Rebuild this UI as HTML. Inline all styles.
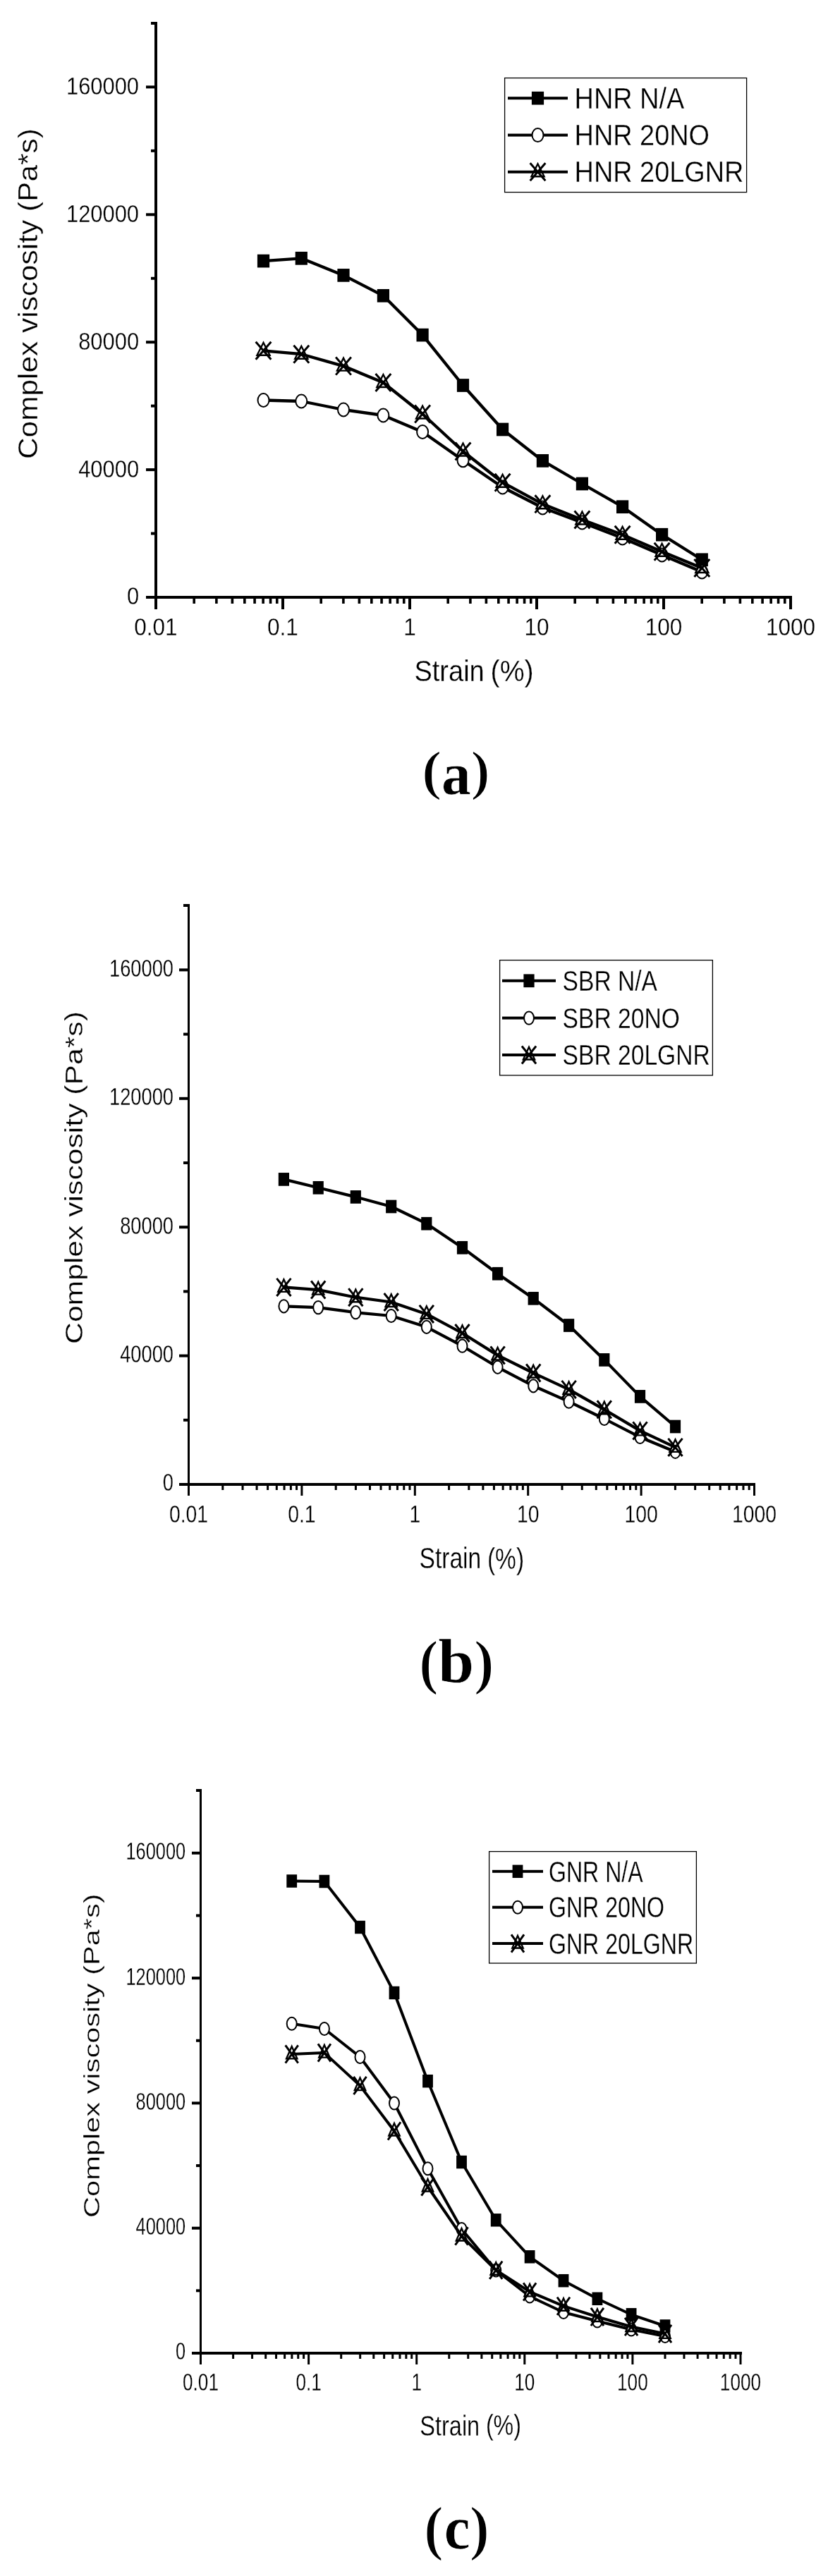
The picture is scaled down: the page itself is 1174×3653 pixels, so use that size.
<!DOCTYPE html>
<html><head><meta charset="utf-8"><style>
html,body{margin:0;padding:0;background:#fff;}
svg{display:block;filter:grayscale(1);}
text{fill:#000;}
.t{stroke:#fff;stroke-width:0.3px;}
.p{stroke:#fff;stroke-width:1.8px;}
.c{stroke:#fff;stroke-width:0.6px;}
</style></head><body>
<svg width="1174" height="3653" viewBox="0 0 1174 3653">
<rect width="1174" height="3653" fill="#fff"/>
<rect x="219" y="31" width="4" height="818" fill="#000"/>
<rect x="207" y="845" width="916" height="4" fill="#000"/>
<rect x="207" y="845" width="12.5" height="4" fill="#000"/>
<rect x="214" y="754.55" width="5.5" height="4" fill="#000"/>
<rect x="207" y="664.1" width="12.5" height="4" fill="#000"/>
<rect x="214" y="573.65" width="5.5" height="4" fill="#000"/>
<rect x="207" y="483.2" width="12.5" height="4" fill="#000"/>
<rect x="214" y="392.75" width="5.5" height="4" fill="#000"/>
<rect x="207" y="302.3" width="12.5" height="4" fill="#000"/>
<rect x="214" y="211.85" width="5.5" height="4" fill="#000"/>
<rect x="207" y="121.4" width="12.5" height="4" fill="#000"/>
<rect x="214" y="31" width="5.5" height="4" fill="#000"/>
<rect x="219" y="846" width="4" height="18" fill="#000"/>
<rect x="273.39" y="846" width="3.6" height="10" fill="#000"/>
<rect x="305.08" y="846" width="3.6" height="10" fill="#000"/>
<rect x="327.57" y="846" width="3.6" height="10" fill="#000"/>
<rect x="345.01" y="846" width="3.6" height="10" fill="#000"/>
<rect x="359.27" y="846" width="3.6" height="10" fill="#000"/>
<rect x="371.32" y="846" width="3.6" height="10" fill="#000"/>
<rect x="381.76" y="846" width="3.6" height="10" fill="#000"/>
<rect x="390.96" y="846" width="3.6" height="10" fill="#000"/>
<rect x="399" y="846" width="4" height="18" fill="#000"/>
<rect x="453.39" y="846" width="3.6" height="10" fill="#000"/>
<rect x="485.08" y="846" width="3.6" height="10" fill="#000"/>
<rect x="507.57" y="846" width="3.6" height="10" fill="#000"/>
<rect x="525.01" y="846" width="3.6" height="10" fill="#000"/>
<rect x="539.27" y="846" width="3.6" height="10" fill="#000"/>
<rect x="551.32" y="846" width="3.6" height="10" fill="#000"/>
<rect x="561.76" y="846" width="3.6" height="10" fill="#000"/>
<rect x="570.96" y="846" width="3.6" height="10" fill="#000"/>
<rect x="579" y="846" width="4" height="18" fill="#000"/>
<rect x="633.39" y="846" width="3.6" height="10" fill="#000"/>
<rect x="665.08" y="846" width="3.6" height="10" fill="#000"/>
<rect x="687.57" y="846" width="3.6" height="10" fill="#000"/>
<rect x="705.01" y="846" width="3.6" height="10" fill="#000"/>
<rect x="719.27" y="846" width="3.6" height="10" fill="#000"/>
<rect x="731.32" y="846" width="3.6" height="10" fill="#000"/>
<rect x="741.76" y="846" width="3.6" height="10" fill="#000"/>
<rect x="750.96" y="846" width="3.6" height="10" fill="#000"/>
<rect x="759" y="846" width="4" height="18" fill="#000"/>
<rect x="813.39" y="846" width="3.6" height="10" fill="#000"/>
<rect x="845.08" y="846" width="3.6" height="10" fill="#000"/>
<rect x="867.57" y="846" width="3.6" height="10" fill="#000"/>
<rect x="885.01" y="846" width="3.6" height="10" fill="#000"/>
<rect x="899.27" y="846" width="3.6" height="10" fill="#000"/>
<rect x="911.32" y="846" width="3.6" height="10" fill="#000"/>
<rect x="921.76" y="846" width="3.6" height="10" fill="#000"/>
<rect x="930.96" y="846" width="3.6" height="10" fill="#000"/>
<rect x="939" y="846" width="4" height="18" fill="#000"/>
<rect x="993.39" y="846" width="3.6" height="10" fill="#000"/>
<rect x="1025.08" y="846" width="3.6" height="10" fill="#000"/>
<rect x="1047.57" y="846" width="3.6" height="10" fill="#000"/>
<rect x="1065.01" y="846" width="3.6" height="10" fill="#000"/>
<rect x="1079.27" y="846" width="3.6" height="10" fill="#000"/>
<rect x="1091.32" y="846" width="3.6" height="10" fill="#000"/>
<rect x="1101.76" y="846" width="3.6" height="10" fill="#000"/>
<rect x="1110.96" y="846" width="3.6" height="10" fill="#000"/>
<rect x="1119" y="846" width="4" height="18" fill="#000"/>
<text font-family='"Liberation Sans", sans-serif' font-weight="normal" font-size="35" class="t" transform="translate(179.91 857.4) scale(0.8830 1)">0</text>
<text font-family='"Liberation Sans", sans-serif' font-weight="normal" font-size="35" class="t" transform="translate(111.16 676.5) scale(0.8830 1)">40000</text>
<text font-family='"Liberation Sans", sans-serif' font-weight="normal" font-size="35" class="t" transform="translate(111.16 495.6) scale(0.8830 1)">80000</text>
<text font-family='"Liberation Sans", sans-serif' font-weight="normal" font-size="35" class="t" transform="translate(93.97 314.7) scale(0.8830 1)">120000</text>
<text font-family='"Liberation Sans", sans-serif' font-weight="normal" font-size="35" class="t" transform="translate(93.97 133.8) scale(0.8830 1)">160000</text>
<text font-family='"Liberation Sans", sans-serif' font-weight="normal" font-size="35.7" class="t" transform="translate(190.32 900.95) scale(0.8830 1)">0.01</text>
<text font-family='"Liberation Sans", sans-serif' font-weight="normal" font-size="35.7" class="t" transform="translate(379.09 900.95) scale(0.8830 1)">0.1</text>
<text font-family='"Liberation Sans", sans-serif' font-weight="normal" font-size="35.7" class="t" transform="translate(572.23 900.95) scale(0.8830 1)">1</text>
<text font-family='"Liberation Sans", sans-serif' font-weight="normal" font-size="35.7" class="t" transform="translate(743.47 900.95) scale(0.8830 1)">10</text>
<text font-family='"Liberation Sans", sans-serif' font-weight="normal" font-size="35.7" class="t" transform="translate(914.7 900.95) scale(0.8830 1)">100</text>
<text font-family='"Liberation Sans", sans-serif' font-weight="normal" font-size="35.7" class="t" transform="translate(1085.94 900.95) scale(0.8830 1)">1000</text>
<text font-family='"Liberation Sans", sans-serif' font-weight="normal" font-size="42.72" class="t" transform="translate(587.39 966.27) scale(0.8904 1)">Strain</text>
<text font-family='"Liberation Sans", sans-serif' font-weight="normal" font-size="42.04" class="t" transform="translate(695.54 965.78) scale(0.9349 1)">(%)</text>
<text font-family='"Liberation Sans", sans-serif' font-size="37.86" class="t" transform="translate(53.35 651.02) rotate(-90) scale(1.1199 1)">Complex viscosity (Pa*s)</text>
<text font-family='"Liberation Serif", serif' font-weight="bold" font-size="77.91" class="p" transform="translate(597.8 1119.14) scale(1.1124 1)">(</text>
<text font-family='"Liberation Serif", serif' font-weight="bold" font-size="85" class="c" transform="translate(625.89 1125.85) scale(0.9802 1)">a</text>
<text font-family='"Liberation Serif", serif' font-weight="bold" font-size="77.91" class="p" transform="translate(667.3 1119.14) scale(1.0668 1)">)</text>
<polyline points="373.5,370.1 427.3,366.3 487,390.4 543.4,419.3 599.1,475.1 656.5,546.5 712.6,609 769.4,653.4 825.4,686 882.6,718.7 938.6,758.2 995.3,793.8" fill="none" stroke="#000" stroke-linejoin="round" stroke-width="4.3"/>
<rect x="364.9" y="360.75" width="17.2" height="18.7"/>
<rect x="418.7" y="356.95" width="17.2" height="18.7"/>
<rect x="478.4" y="381.05" width="17.2" height="18.7"/>
<rect x="534.8" y="409.95" width="17.2" height="18.7"/>
<rect x="590.5" y="465.75" width="17.2" height="18.7"/>
<rect x="647.9" y="537.15" width="17.2" height="18.7"/>
<rect x="704" y="599.65" width="17.2" height="18.7"/>
<rect x="760.8" y="644.05" width="17.2" height="18.7"/>
<rect x="816.8" y="676.65" width="17.2" height="18.7"/>
<rect x="874" y="709.35" width="17.2" height="18.7"/>
<rect x="930" y="748.85" width="17.2" height="18.7"/>
<rect x="986.7" y="784.45" width="17.2" height="18.7"/>
<polyline points="373.5,567.5 427.3,569 487,581 543.4,589 599.1,612.5 656.5,652.8 712.6,691 769.4,720 825.4,741 882.6,763 938.6,787 995.3,811" fill="none" stroke="#000" stroke-linejoin="round" stroke-width="4.3"/>
<ellipse cx="373.5" cy="567.5" rx="8" ry="9.5" fill="#fff" stroke="#000" stroke-width="2.0"/>
<ellipse cx="427.3" cy="569" rx="8" ry="9.5" fill="#fff" stroke="#000" stroke-width="2.0"/>
<ellipse cx="487" cy="581" rx="8" ry="9.5" fill="#fff" stroke="#000" stroke-width="2.0"/>
<ellipse cx="543.4" cy="589" rx="8" ry="9.5" fill="#fff" stroke="#000" stroke-width="2.0"/>
<ellipse cx="599.1" cy="612.5" rx="8" ry="9.5" fill="#fff" stroke="#000" stroke-width="2.0"/>
<ellipse cx="656.5" cy="652.8" rx="8" ry="9.5" fill="#fff" stroke="#000" stroke-width="2.0"/>
<ellipse cx="712.6" cy="691" rx="8" ry="9.5" fill="#fff" stroke="#000" stroke-width="2.0"/>
<ellipse cx="769.4" cy="720" rx="8" ry="9.5" fill="#fff" stroke="#000" stroke-width="2.0"/>
<ellipse cx="825.4" cy="741" rx="8" ry="9.5" fill="#fff" stroke="#000" stroke-width="2.0"/>
<ellipse cx="882.6" cy="763" rx="8" ry="9.5" fill="#fff" stroke="#000" stroke-width="2.0"/>
<ellipse cx="938.6" cy="787" rx="8" ry="9.5" fill="#fff" stroke="#000" stroke-width="2.0"/>
<ellipse cx="995.3" cy="811" rx="8" ry="9.5" fill="#fff" stroke="#000" stroke-width="2.0"/>
<polyline points="373.5,497.3 427.3,502.2 487,519.1 543.4,542.5 599.1,587 656.5,640 712.6,684.2 769.4,714.8 825.4,737 882.6,758.3 938.6,782.2 995.3,805.5" fill="none" stroke="#000" stroke-linejoin="round" stroke-width="4.3"/>
<path d="M362.63,484.78L384.37,509.82M384.37,484.78L362.63,509.82" stroke="#000" stroke-width="3.0" fill="none"/>
<path d="M373.5,483.3L384.5,505L362.5,505Z M366.41,502.6L380.59,502.6L373.5,488.61Z" fill="#000" fill-rule="evenodd"/>
<path d="M416.43,489.68L438.17,514.72M438.17,489.68L416.43,514.72" stroke="#000" stroke-width="3.0" fill="none"/>
<path d="M427.3,488.2L438.3,509.9L416.3,509.9Z M420.21,507.5L434.39,507.5L427.3,493.51Z" fill="#000" fill-rule="evenodd"/>
<path d="M476.13,506.58L497.87,531.62M497.87,506.58L476.13,531.62" stroke="#000" stroke-width="3.0" fill="none"/>
<path d="M487,505.1L498,526.8L476,526.8Z M479.91,524.4L494.09,524.4L487,510.41Z" fill="#000" fill-rule="evenodd"/>
<path d="M532.53,529.98L554.27,555.02M554.27,529.98L532.53,555.02" stroke="#000" stroke-width="3.0" fill="none"/>
<path d="M543.4,528.5L554.4,550.2L532.4,550.2Z M536.31,547.8L550.49,547.8L543.4,533.81Z" fill="#000" fill-rule="evenodd"/>
<path d="M588.23,574.48L609.97,599.52M609.97,574.48L588.23,599.52" stroke="#000" stroke-width="3.0" fill="none"/>
<path d="M599.1,573L610.1,594.7L588.1,594.7Z M592.01,592.3L606.19,592.3L599.1,578.31Z" fill="#000" fill-rule="evenodd"/>
<path d="M645.63,627.48L667.37,652.52M667.37,627.48L645.63,652.52" stroke="#000" stroke-width="3.0" fill="none"/>
<path d="M656.5,626L667.5,647.7L645.5,647.7Z M649.41,645.3L663.59,645.3L656.5,631.31Z" fill="#000" fill-rule="evenodd"/>
<path d="M701.73,671.68L723.47,696.72M723.47,671.68L701.73,696.72" stroke="#000" stroke-width="3.0" fill="none"/>
<path d="M712.6,670.2L723.6,691.9L701.6,691.9Z M705.51,689.5L719.69,689.5L712.6,675.51Z" fill="#000" fill-rule="evenodd"/>
<path d="M758.53,702.28L780.27,727.32M780.27,702.28L758.53,727.32" stroke="#000" stroke-width="3.0" fill="none"/>
<path d="M769.4,700.8L780.4,722.5L758.4,722.5Z M762.31,720.1L776.49,720.1L769.4,706.11Z" fill="#000" fill-rule="evenodd"/>
<path d="M814.53,724.48L836.27,749.52M836.27,724.48L814.53,749.52" stroke="#000" stroke-width="3.0" fill="none"/>
<path d="M825.4,723L836.4,744.7L814.4,744.7Z M818.31,742.3L832.49,742.3L825.4,728.31Z" fill="#000" fill-rule="evenodd"/>
<path d="M871.73,745.78L893.47,770.82M893.47,745.78L871.73,770.82" stroke="#000" stroke-width="3.0" fill="none"/>
<path d="M882.6,744.3L893.6,766L871.6,766Z M875.51,763.6L889.69,763.6L882.6,749.61Z" fill="#000" fill-rule="evenodd"/>
<path d="M927.73,769.68L949.47,794.72M949.47,769.68L927.73,794.72" stroke="#000" stroke-width="3.0" fill="none"/>
<path d="M938.6,768.2L949.6,789.9L927.6,789.9Z M931.51,787.5L945.69,787.5L938.6,773.51Z" fill="#000" fill-rule="evenodd"/>
<path d="M984.43,792.98L1006.17,818.02M1006.17,792.98L984.43,818.02" stroke="#000" stroke-width="3.0" fill="none"/>
<path d="M995.3,791.5L1006.3,813.2L984.3,813.2Z M988.21,810.8L1002.39,810.8L995.3,796.81Z" fill="#000" fill-rule="evenodd"/>
<rect x="715.6" y="110.6" width="343" height="162" fill="none" stroke="#000" stroke-width="1.3"/>
<rect x="720" y="137.2" width="85" height="4" fill="#000"/>
<rect x="753.9" y="129.85" width="17.2" height="18.7"/>
<rect x="720" y="189.6" width="85" height="4" fill="#000"/>
<ellipse cx="762.5" cy="191.6" rx="8" ry="9.5" fill="#fff" stroke="#000" stroke-width="2.0"/>
<rect x="720" y="241.8" width="85" height="4" fill="#000"/>
<path d="M751.63,231.28L773.37,256.32M773.37,231.28L751.63,256.32" stroke="#000" stroke-width="3.0" fill="none"/>
<path d="M762.5,229.8L773.5,251.5L751.5,251.5Z M755.41,249.1L769.59,249.1L762.5,235.11Z" fill="#000" fill-rule="evenodd"/>
<text font-family='"Liberation Sans", sans-serif' font-weight="normal" font-size="42.3" class="t" transform="translate(814.6 153.8) scale(0.8950 1)">HNR N/A</text>
<text font-family='"Liberation Sans", sans-serif' font-weight="normal" font-size="42.3" class="t" transform="translate(814.6 205.5) scale(0.8950 1)">HNR 20NO</text>
<text font-family='"Liberation Sans", sans-serif' font-weight="normal" font-size="42.3" class="t" transform="translate(814.6 257.7) scale(0.8950 1)">HNR 20LGNR</text>
<rect x="266" y="1282" width="3" height="825" fill="#000"/>
<rect x="254" y="2103" width="817" height="4" fill="#000"/>
<rect x="254" y="2103" width="12.5" height="4" fill="#000"/>
<rect x="260" y="2011.8" width="6.5" height="4" fill="#000"/>
<rect x="254" y="1920.6" width="12.5" height="4" fill="#000"/>
<rect x="260" y="1829.4" width="6.5" height="4" fill="#000"/>
<rect x="254" y="1738.2" width="12.5" height="4" fill="#000"/>
<rect x="260" y="1647" width="6.5" height="4" fill="#000"/>
<rect x="254" y="1555.8" width="12.5" height="4" fill="#000"/>
<rect x="260" y="1464.6" width="6.5" height="4" fill="#000"/>
<rect x="254" y="1373.4" width="12.5" height="4" fill="#000"/>
<rect x="260" y="1282" width="6.5" height="4" fill="#000"/>
<rect x="266" y="2104" width="3" height="17" fill="#000"/>
<rect x="314.29" y="2104" width="3" height="9" fill="#000"/>
<rect x="342.53" y="2104" width="3" height="9" fill="#000"/>
<rect x="362.57" y="2104" width="3" height="9" fill="#000"/>
<rect x="378.11" y="2104" width="3" height="9" fill="#000"/>
<rect x="390.82" y="2104" width="3" height="9" fill="#000"/>
<rect x="401.55" y="2104" width="3" height="9" fill="#000"/>
<rect x="410.86" y="2104" width="3" height="9" fill="#000"/>
<rect x="419.06" y="2104" width="3" height="9" fill="#000"/>
<rect x="426.4" y="2104" width="3" height="17" fill="#000"/>
<rect x="474.69" y="2104" width="3" height="9" fill="#000"/>
<rect x="502.93" y="2104" width="3" height="9" fill="#000"/>
<rect x="522.97" y="2104" width="3" height="9" fill="#000"/>
<rect x="538.51" y="2104" width="3" height="9" fill="#000"/>
<rect x="551.22" y="2104" width="3" height="9" fill="#000"/>
<rect x="561.95" y="2104" width="3" height="9" fill="#000"/>
<rect x="571.26" y="2104" width="3" height="9" fill="#000"/>
<rect x="579.46" y="2104" width="3" height="9" fill="#000"/>
<rect x="586.8" y="2104" width="3" height="17" fill="#000"/>
<rect x="635.09" y="2104" width="3" height="9" fill="#000"/>
<rect x="663.33" y="2104" width="3" height="9" fill="#000"/>
<rect x="683.37" y="2104" width="3" height="9" fill="#000"/>
<rect x="698.91" y="2104" width="3" height="9" fill="#000"/>
<rect x="711.62" y="2104" width="3" height="9" fill="#000"/>
<rect x="722.35" y="2104" width="3" height="9" fill="#000"/>
<rect x="731.66" y="2104" width="3" height="9" fill="#000"/>
<rect x="739.86" y="2104" width="3" height="9" fill="#000"/>
<rect x="747.2" y="2104" width="3" height="17" fill="#000"/>
<rect x="795.49" y="2104" width="3" height="9" fill="#000"/>
<rect x="823.73" y="2104" width="3" height="9" fill="#000"/>
<rect x="843.77" y="2104" width="3" height="9" fill="#000"/>
<rect x="859.31" y="2104" width="3" height="9" fill="#000"/>
<rect x="872.02" y="2104" width="3" height="9" fill="#000"/>
<rect x="882.75" y="2104" width="3" height="9" fill="#000"/>
<rect x="892.06" y="2104" width="3" height="9" fill="#000"/>
<rect x="900.26" y="2104" width="3" height="9" fill="#000"/>
<rect x="907.6" y="2104" width="3" height="17" fill="#000"/>
<rect x="955.89" y="2104" width="3" height="9" fill="#000"/>
<rect x="984.13" y="2104" width="3" height="9" fill="#000"/>
<rect x="1004.17" y="2104" width="3" height="9" fill="#000"/>
<rect x="1019.71" y="2104" width="3" height="9" fill="#000"/>
<rect x="1032.42" y="2104" width="3" height="9" fill="#000"/>
<rect x="1043.15" y="2104" width="3" height="9" fill="#000"/>
<rect x="1052.46" y="2104" width="3" height="9" fill="#000"/>
<rect x="1060.66" y="2104" width="3" height="9" fill="#000"/>
<rect x="1068" y="2104" width="3" height="17" fill="#000"/>
<text font-family='"Liberation Sans", sans-serif' font-weight="normal" font-size="34.5" class="t" transform="translate(230.84 2114.3) scale(0.7900 1)">0</text>
<text font-family='"Liberation Sans", sans-serif' font-weight="normal" font-size="34.5" class="t" transform="translate(170.21 1931.9) scale(0.7900 1)">40000</text>
<text font-family='"Liberation Sans", sans-serif' font-weight="normal" font-size="34.5" class="t" transform="translate(170.21 1749.5) scale(0.7900 1)">80000</text>
<text font-family='"Liberation Sans", sans-serif' font-weight="normal" font-size="34.5" class="t" transform="translate(155.05 1567.1) scale(0.7900 1)">120000</text>
<text font-family='"Liberation Sans", sans-serif' font-weight="normal" font-size="34.5" class="t" transform="translate(155.05 1384.7) scale(0.7900 1)">160000</text>
<text font-family='"Liberation Sans", sans-serif' font-weight="normal" font-size="35.9" class="t" transform="translate(239.9 2158.75) scale(0.7900 1)">0.01</text>
<text font-family='"Liberation Sans", sans-serif' font-weight="normal" font-size="35.9" class="t" transform="translate(408.19 2158.75) scale(0.7900 1)">0.1</text>
<text font-family='"Liberation Sans", sans-serif' font-weight="normal" font-size="35.9" class="t" transform="translate(580.41 2158.75) scale(0.7900 1)">1</text>
<text font-family='"Liberation Sans", sans-serif' font-weight="normal" font-size="35.9" class="t" transform="translate(732.93 2158.75) scale(0.7900 1)">10</text>
<text font-family='"Liberation Sans", sans-serif' font-weight="normal" font-size="35.9" class="t" transform="translate(885.44 2158.75) scale(0.7900 1)">100</text>
<text font-family='"Liberation Sans", sans-serif' font-weight="normal" font-size="35.9" class="t" transform="translate(1037.95 2158.75) scale(0.7900 1)">1000</text>
<text font-family='"Liberation Sans", sans-serif' font-weight="normal" font-size="42.04" class="t" transform="translate(594.49 2224.38) scale(0.7992 1)">Strain</text>
<text font-family='"Liberation Sans", sans-serif' font-weight="normal" font-size="42.79" class="t" transform="translate(690.9 2224.92) scale(0.7845 1)">(%)</text>
<text font-family='"Liberation Sans", sans-serif' font-size="34.32" class="t" transform="translate(116.88 1905.93) rotate(-90) scale(1.2434 1)">Complex viscosity (Pa*s)</text>
<text font-family='"Liberation Serif", serif' font-weight="bold" font-size="86.17" class="p" transform="translate(593.96 2385.99) scale(0.9648 1)">(</text>
<text font-family='"Liberation Serif", serif' font-weight="bold" font-size="88.65" class="c" transform="translate(621.36 2386.01) scale(1.0326 1)">b</text>
<text font-family='"Liberation Serif", serif' font-weight="bold" font-size="86.17" class="p" transform="translate(671.87 2385.99) scale(1.0095 1)">)</text>
<polyline points="402.4,1672.4 451.2,1684.3 504.3,1697.4 554.7,1711 604.8,1735.2 655.5,1769.3 705.6,1806.2 756.2,1841.3 806.6,1879.5 856.8,1928.4 907.5,1980.4 957.5,2023" fill="none" stroke="#000" stroke-linejoin="round" stroke-width="4.2"/>
<rect x="394.8" y="1663.05" width="15.2" height="18.7"/>
<rect x="443.6" y="1674.95" width="15.2" height="18.7"/>
<rect x="496.7" y="1688.05" width="15.2" height="18.7"/>
<rect x="547.1" y="1701.65" width="15.2" height="18.7"/>
<rect x="597.2" y="1725.85" width="15.2" height="18.7"/>
<rect x="647.9" y="1759.95" width="15.2" height="18.7"/>
<rect x="698" y="1796.85" width="15.2" height="18.7"/>
<rect x="748.6" y="1831.95" width="15.2" height="18.7"/>
<rect x="799" y="1870.15" width="15.2" height="18.7"/>
<rect x="849.2" y="1919.05" width="15.2" height="18.7"/>
<rect x="899.9" y="1971.05" width="15.2" height="18.7"/>
<rect x="949.9" y="2013.65" width="15.2" height="18.7"/>
<polyline points="402.4,1852.3 451.2,1854.1 504.3,1861.2 554.7,1866 604.8,1881.8 655.5,1908.7 705.6,1938.8 756.2,1965.3 806.6,1987.7 856.8,2012 907.5,2038 957.5,2058.8" fill="none" stroke="#000" stroke-linejoin="round" stroke-width="4.2"/>
<ellipse cx="402.4" cy="1852.3" rx="7" ry="9.1" fill="#fff" stroke="#000" stroke-width="2.0"/>
<ellipse cx="451.2" cy="1854.1" rx="7" ry="9.1" fill="#fff" stroke="#000" stroke-width="2.0"/>
<ellipse cx="504.3" cy="1861.2" rx="7" ry="9.1" fill="#fff" stroke="#000" stroke-width="2.0"/>
<ellipse cx="554.7" cy="1866" rx="7" ry="9.1" fill="#fff" stroke="#000" stroke-width="2.0"/>
<ellipse cx="604.8" cy="1881.8" rx="7" ry="9.1" fill="#fff" stroke="#000" stroke-width="2.0"/>
<ellipse cx="655.5" cy="1908.7" rx="7" ry="9.1" fill="#fff" stroke="#000" stroke-width="2.0"/>
<ellipse cx="705.6" cy="1938.8" rx="7" ry="9.1" fill="#fff" stroke="#000" stroke-width="2.0"/>
<ellipse cx="756.2" cy="1965.3" rx="7" ry="9.1" fill="#fff" stroke="#000" stroke-width="2.0"/>
<ellipse cx="806.6" cy="1987.7" rx="7" ry="9.1" fill="#fff" stroke="#000" stroke-width="2.0"/>
<ellipse cx="856.8" cy="2012" rx="7" ry="9.1" fill="#fff" stroke="#000" stroke-width="2.0"/>
<ellipse cx="907.5" cy="2038" rx="7" ry="9.1" fill="#fff" stroke="#000" stroke-width="2.0"/>
<ellipse cx="957.5" cy="2058.8" rx="7" ry="9.1" fill="#fff" stroke="#000" stroke-width="2.0"/>
<polyline points="402.4,1825.4 451.2,1829.1 504.3,1839.7 554.7,1846.5 604.8,1863.4 655.5,1890.5 705.6,1921.9 756.2,1947 806.6,1970.4 856.8,1998.8 907.5,2028.9 957.5,2052.4" fill="none" stroke="#000" stroke-linejoin="round" stroke-width="4.2"/>
<path d="M392.32,1812.84L412.48,1837.96M412.48,1812.84L392.32,1837.96" stroke="#000" stroke-width="3.0" fill="none"/>
<path d="M402.4,1811.4L412.4,1833.1L392.4,1833.1Z M396.15,1830.7L408.65,1830.7L402.4,1817.13Z" fill="#000" fill-rule="evenodd"/>
<path d="M441.12,1816.54L461.28,1841.66M461.28,1816.54L441.12,1841.66" stroke="#000" stroke-width="3.0" fill="none"/>
<path d="M451.2,1815.1L461.2,1836.8L441.2,1836.8Z M444.95,1834.4L457.45,1834.4L451.2,1820.83Z" fill="#000" fill-rule="evenodd"/>
<path d="M494.22,1827.14L514.38,1852.26M514.38,1827.14L494.22,1852.26" stroke="#000" stroke-width="3.0" fill="none"/>
<path d="M504.3,1825.7L514.3,1847.4L494.3,1847.4Z M498.05,1845L510.55,1845L504.3,1831.43Z" fill="#000" fill-rule="evenodd"/>
<path d="M544.62,1833.94L564.78,1859.06M564.78,1833.94L544.62,1859.06" stroke="#000" stroke-width="3.0" fill="none"/>
<path d="M554.7,1832.5L564.7,1854.2L544.7,1854.2Z M548.45,1851.8L560.95,1851.8L554.7,1838.23Z" fill="#000" fill-rule="evenodd"/>
<path d="M594.72,1850.84L614.88,1875.96M614.88,1850.84L594.72,1875.96" stroke="#000" stroke-width="3.0" fill="none"/>
<path d="M604.8,1849.4L614.8,1871.1L594.8,1871.1Z M598.55,1868.7L611.05,1868.7L604.8,1855.13Z" fill="#000" fill-rule="evenodd"/>
<path d="M645.42,1877.94L665.58,1903.06M665.58,1877.94L645.42,1903.06" stroke="#000" stroke-width="3.0" fill="none"/>
<path d="M655.5,1876.5L665.5,1898.2L645.5,1898.2Z M649.25,1895.8L661.75,1895.8L655.5,1882.23Z" fill="#000" fill-rule="evenodd"/>
<path d="M695.52,1909.34L715.68,1934.46M715.68,1909.34L695.52,1934.46" stroke="#000" stroke-width="3.0" fill="none"/>
<path d="M705.6,1907.9L715.6,1929.6L695.6,1929.6Z M699.35,1927.2L711.85,1927.2L705.6,1913.63Z" fill="#000" fill-rule="evenodd"/>
<path d="M746.12,1934.44L766.28,1959.56M766.28,1934.44L746.12,1959.56" stroke="#000" stroke-width="3.0" fill="none"/>
<path d="M756.2,1933L766.2,1954.7L746.2,1954.7Z M749.95,1952.3L762.45,1952.3L756.2,1938.73Z" fill="#000" fill-rule="evenodd"/>
<path d="M796.52,1957.84L816.68,1982.96M816.68,1957.84L796.52,1982.96" stroke="#000" stroke-width="3.0" fill="none"/>
<path d="M806.6,1956.4L816.6,1978.1L796.6,1978.1Z M800.35,1975.7L812.85,1975.7L806.6,1962.13Z" fill="#000" fill-rule="evenodd"/>
<path d="M846.72,1986.24L866.88,2011.36M866.88,1986.24L846.72,2011.36" stroke="#000" stroke-width="3.0" fill="none"/>
<path d="M856.8,1984.8L866.8,2006.5L846.8,2006.5Z M850.55,2004.1L863.05,2004.1L856.8,1990.53Z" fill="#000" fill-rule="evenodd"/>
<path d="M897.42,2016.34L917.58,2041.46M917.58,2016.34L897.42,2041.46" stroke="#000" stroke-width="3.0" fill="none"/>
<path d="M907.5,2014.9L917.5,2036.6L897.5,2036.6Z M901.25,2034.2L913.75,2034.2L907.5,2020.63Z" fill="#000" fill-rule="evenodd"/>
<path d="M947.42,2039.84L967.58,2064.96M967.58,2039.84L947.42,2064.96" stroke="#000" stroke-width="3.0" fill="none"/>
<path d="M957.5,2038.4L967.5,2060.1L947.5,2060.1Z M951.25,2057.7L963.75,2057.7L957.5,2044.13Z" fill="#000" fill-rule="evenodd"/>
<rect x="708.6" y="1361.6" width="301.8" height="163.3" fill="none" stroke="#000" stroke-width="1.3"/>
<rect x="712" y="1388.8" width="76" height="4" fill="#000"/>
<rect x="742.4" y="1381.45" width="15.2" height="18.7"/>
<rect x="712" y="1441.6" width="76" height="4" fill="#000"/>
<ellipse cx="750" cy="1443.6" rx="7" ry="9.1" fill="#fff" stroke="#000" stroke-width="2.0"/>
<rect x="712" y="1494" width="76" height="4" fill="#000"/>
<path d="M739.92,1483.44L760.08,1508.56M760.08,1483.44L739.92,1508.56" stroke="#000" stroke-width="3.0" fill="none"/>
<path d="M750,1482L760,1503.7L740,1503.7Z M743.75,1501.3L756.25,1501.3L750,1487.73Z" fill="#000" fill-rule="evenodd"/>
<text font-family='"Liberation Sans", sans-serif' font-weight="normal" font-size="41.6" class="t" transform="translate(797.6 1405.3) scale(0.8080 1)">SBR N/A</text>
<text font-family='"Liberation Sans", sans-serif' font-weight="normal" font-size="41.6" class="t" transform="translate(797.6 1457.7) scale(0.8080 1)">SBR 20NO</text>
<text font-family='"Liberation Sans", sans-serif' font-weight="normal" font-size="41.6" class="t" transform="translate(797.6 1510) scale(0.8080 1)">SBR 20LGNR</text>
<rect x="283" y="2537" width="3" height="802" fill="#000"/>
<rect x="272" y="3335" width="780" height="4" fill="#000"/>
<rect x="272" y="3335" width="11.5" height="4" fill="#000"/>
<rect x="278" y="3246.35" width="5.5" height="4" fill="#000"/>
<rect x="272" y="3157.7" width="11.5" height="4" fill="#000"/>
<rect x="278" y="3069.05" width="5.5" height="4" fill="#000"/>
<rect x="272" y="2980.4" width="11.5" height="4" fill="#000"/>
<rect x="278" y="2891.75" width="5.5" height="4" fill="#000"/>
<rect x="272" y="2803.1" width="11.5" height="4" fill="#000"/>
<rect x="278" y="2714.45" width="5.5" height="4" fill="#000"/>
<rect x="272" y="2625.8" width="11.5" height="4" fill="#000"/>
<rect x="278" y="2537" width="5.5" height="4" fill="#000"/>
<rect x="283" y="3336" width="3" height="17" fill="#000"/>
<rect x="329.09" y="3336" width="3" height="9" fill="#000"/>
<rect x="356.05" y="3336" width="3" height="9" fill="#000"/>
<rect x="375.18" y="3336" width="3" height="9" fill="#000"/>
<rect x="390.01" y="3336" width="3" height="9" fill="#000"/>
<rect x="402.13" y="3336" width="3" height="9" fill="#000"/>
<rect x="412.38" y="3336" width="3" height="9" fill="#000"/>
<rect x="421.26" y="3336" width="3" height="9" fill="#000"/>
<rect x="429.09" y="3336" width="3" height="9" fill="#000"/>
<rect x="436.1" y="3336" width="3" height="17" fill="#000"/>
<rect x="482.19" y="3336" width="3" height="9" fill="#000"/>
<rect x="509.15" y="3336" width="3" height="9" fill="#000"/>
<rect x="528.28" y="3336" width="3" height="9" fill="#000"/>
<rect x="543.11" y="3336" width="3" height="9" fill="#000"/>
<rect x="555.23" y="3336" width="3" height="9" fill="#000"/>
<rect x="565.48" y="3336" width="3" height="9" fill="#000"/>
<rect x="574.36" y="3336" width="3" height="9" fill="#000"/>
<rect x="582.19" y="3336" width="3" height="9" fill="#000"/>
<rect x="589.2" y="3336" width="3" height="17" fill="#000"/>
<rect x="635.29" y="3336" width="3" height="9" fill="#000"/>
<rect x="662.25" y="3336" width="3" height="9" fill="#000"/>
<rect x="681.38" y="3336" width="3" height="9" fill="#000"/>
<rect x="696.21" y="3336" width="3" height="9" fill="#000"/>
<rect x="708.33" y="3336" width="3" height="9" fill="#000"/>
<rect x="718.58" y="3336" width="3" height="9" fill="#000"/>
<rect x="727.46" y="3336" width="3" height="9" fill="#000"/>
<rect x="735.29" y="3336" width="3" height="9" fill="#000"/>
<rect x="742.3" y="3336" width="3" height="17" fill="#000"/>
<rect x="788.39" y="3336" width="3" height="9" fill="#000"/>
<rect x="815.35" y="3336" width="3" height="9" fill="#000"/>
<rect x="834.48" y="3336" width="3" height="9" fill="#000"/>
<rect x="849.31" y="3336" width="3" height="9" fill="#000"/>
<rect x="861.43" y="3336" width="3" height="9" fill="#000"/>
<rect x="871.68" y="3336" width="3" height="9" fill="#000"/>
<rect x="880.56" y="3336" width="3" height="9" fill="#000"/>
<rect x="888.39" y="3336" width="3" height="9" fill="#000"/>
<rect x="895.4" y="3336" width="3" height="17" fill="#000"/>
<rect x="941.49" y="3336" width="3" height="9" fill="#000"/>
<rect x="968.45" y="3336" width="3" height="9" fill="#000"/>
<rect x="987.58" y="3336" width="3" height="9" fill="#000"/>
<rect x="1002.41" y="3336" width="3" height="9" fill="#000"/>
<rect x="1014.53" y="3336" width="3" height="9" fill="#000"/>
<rect x="1024.78" y="3336" width="3" height="9" fill="#000"/>
<rect x="1033.66" y="3336" width="3" height="9" fill="#000"/>
<rect x="1041.49" y="3336" width="3" height="9" fill="#000"/>
<rect x="1048.5" y="3336" width="3" height="17" fill="#000"/>
<text font-family='"Liberation Sans", sans-serif' font-weight="normal" font-size="34.4" class="t" transform="translate(249.08 3346.45) scale(0.7380 1)">0</text>
<text font-family='"Liberation Sans", sans-serif' font-weight="normal" font-size="34.4" class="t" transform="translate(192.6 3169.15) scale(0.7380 1)">40000</text>
<text font-family='"Liberation Sans", sans-serif' font-weight="normal" font-size="34.4" class="t" transform="translate(192.6 2991.85) scale(0.7380 1)">80000</text>
<text font-family='"Liberation Sans", sans-serif' font-weight="normal" font-size="34.4" class="t" transform="translate(178.48 2814.55) scale(0.7380 1)">120000</text>
<text font-family='"Liberation Sans", sans-serif' font-weight="normal" font-size="34.4" class="t" transform="translate(178.48 2637.25) scale(0.7380 1)">160000</text>
<text font-family='"Liberation Sans", sans-serif' font-weight="normal" font-size="35.5" class="t" transform="translate(259 3389.65) scale(0.7380 1)">0.01</text>
<text font-family='"Liberation Sans", sans-serif' font-weight="normal" font-size="35.5" class="t" transform="translate(419.39 3389.65) scale(0.7380 1)">0.1</text>
<text font-family='"Liberation Sans", sans-serif' font-weight="normal" font-size="35.5" class="t" transform="translate(583.41 3389.65) scale(0.7380 1)">1</text>
<text font-family='"Liberation Sans", sans-serif' font-weight="normal" font-size="35.5" class="t" transform="translate(729.23 3389.65) scale(0.7380 1)">10</text>
<text font-family='"Liberation Sans", sans-serif' font-weight="normal" font-size="35.5" class="t" transform="translate(875.04 3389.65) scale(0.7380 1)">100</text>
<text font-family='"Liberation Sans", sans-serif' font-weight="normal" font-size="35.5" class="t" transform="translate(1020.86 3389.65) scale(0.7380 1)">1000</text>
<text font-family='"Liberation Sans", sans-serif' font-weight="normal" font-size="41.09" class="t" transform="translate(595.34 3453.69) scale(0.7905 1)">Strain</text>
<text font-family='"Liberation Sans", sans-serif' font-weight="normal" font-size="40.75" class="t" transform="translate(688.89 3453.44) scale(0.7911 1)">(%)</text>
<text font-family='"Liberation Sans", sans-serif' font-size="31.21" class="t" transform="translate(140.62 3144.98) rotate(-90) scale(1.3324 1)">Complex viscosity (Pa*s)</text>
<text font-family='"Liberation Serif", serif' font-weight="bold" font-size="87.05" class="p" transform="translate(601.04 3614.4) scale(0.9595 1)">(</text>
<text font-family='"Liberation Serif", serif' font-weight="bold" font-size="87.29" class="c" transform="translate(629.8 3614.03) scale(0.9492 1)">c</text>
<text font-family='"Liberation Serif", serif' font-weight="bold" font-size="87.05" class="p" transform="translate(665.61 3614.4) scale(0.9859 1)">)</text>
<polyline points="413.7,2667.5 459.9,2668 510.5,2733 559,2826 606.5,2951.2 654.5,3066 703.2,3148.3 751.1,3200.3 799,3234.2 846.9,3259.8 895.1,3282.3 943,3298.5" fill="none" stroke="#000" stroke-linejoin="round" stroke-width="4.0"/>
<rect x="406.3" y="2658.25" width="14.8" height="18.5"/>
<rect x="452.5" y="2658.75" width="14.8" height="18.5"/>
<rect x="503.1" y="2723.75" width="14.8" height="18.5"/>
<rect x="551.6" y="2816.75" width="14.8" height="18.5"/>
<rect x="599.1" y="2941.95" width="14.8" height="18.5"/>
<rect x="647.1" y="3056.75" width="14.8" height="18.5"/>
<rect x="695.8" y="3139.05" width="14.8" height="18.5"/>
<rect x="743.7" y="3191.05" width="14.8" height="18.5"/>
<rect x="791.6" y="3224.95" width="14.8" height="18.5"/>
<rect x="839.5" y="3250.55" width="14.8" height="18.5"/>
<rect x="887.7" y="3273.05" width="14.8" height="18.5"/>
<rect x="935.6" y="3289.25" width="14.8" height="18.5"/>
<polyline points="413.7,2869.8 459.9,2877 510.5,2917 559,2982.5 606.5,3075.3 654.5,3161 703.2,3219.5 751.1,3256.5 799,3279 846.9,3291.5 895.1,3303.5 943,3313" fill="none" stroke="#000" stroke-linejoin="round" stroke-width="4.0"/>
<ellipse cx="413.7" cy="2869.8" rx="7" ry="9" fill="#fff" stroke="#000" stroke-width="2.0"/>
<ellipse cx="459.9" cy="2877" rx="7" ry="9" fill="#fff" stroke="#000" stroke-width="2.0"/>
<ellipse cx="510.5" cy="2917" rx="7" ry="9" fill="#fff" stroke="#000" stroke-width="2.0"/>
<ellipse cx="559" cy="2982.5" rx="7" ry="9" fill="#fff" stroke="#000" stroke-width="2.0"/>
<ellipse cx="606.5" cy="3075.3" rx="7" ry="9" fill="#fff" stroke="#000" stroke-width="2.0"/>
<ellipse cx="654.5" cy="3161" rx="7" ry="9" fill="#fff" stroke="#000" stroke-width="2.0"/>
<ellipse cx="703.2" cy="3219.5" rx="7" ry="9" fill="#fff" stroke="#000" stroke-width="2.0"/>
<ellipse cx="751.1" cy="3256.5" rx="7" ry="9" fill="#fff" stroke="#000" stroke-width="2.0"/>
<ellipse cx="799" cy="3279" rx="7" ry="9" fill="#fff" stroke="#000" stroke-width="2.0"/>
<ellipse cx="846.9" cy="3291.5" rx="7" ry="9" fill="#fff" stroke="#000" stroke-width="2.0"/>
<ellipse cx="895.1" cy="3303.5" rx="7" ry="9" fill="#fff" stroke="#000" stroke-width="2.0"/>
<ellipse cx="943" cy="3313" rx="7" ry="9" fill="#fff" stroke="#000" stroke-width="2.0"/>
<polyline points="413.7,2912.9 459.9,2911.1 510.5,2957.6 559,3022 606.5,3101 654.5,3171 703.2,3219.3 751.1,3249.9 799,3270.2 846.9,3285.5 895.1,3299.5 943,3309.4" fill="none" stroke="#000" stroke-linejoin="round" stroke-width="4.0"/>
<path d="M404.67,2900.27L422.73,2925.53M422.73,2900.27L404.67,2925.53" stroke="#000" stroke-width="3.0" fill="none"/>
<path d="M413.7,2898.9L423.2,2920.6L404.2,2920.6Z M407.87,2918.2L419.53,2918.2L413.7,2904.88Z" fill="#000" fill-rule="evenodd"/>
<path d="M450.87,2898.47L468.93,2923.73M468.93,2898.47L450.87,2923.73" stroke="#000" stroke-width="3.0" fill="none"/>
<path d="M459.9,2897.1L469.4,2918.8L450.4,2918.8Z M454.07,2916.4L465.73,2916.4L459.9,2903.08Z" fill="#000" fill-rule="evenodd"/>
<path d="M501.47,2944.97L519.53,2970.23M519.53,2944.97L501.47,2970.23" stroke="#000" stroke-width="3.0" fill="none"/>
<path d="M510.5,2943.6L520,2965.3L501,2965.3Z M504.67,2962.9L516.33,2962.9L510.5,2949.58Z" fill="#000" fill-rule="evenodd"/>
<path d="M549.97,3009.37L568.03,3034.63M568.03,3009.37L549.97,3034.63" stroke="#000" stroke-width="3.0" fill="none"/>
<path d="M559,3008L568.5,3029.7L549.5,3029.7Z M553.17,3027.3L564.83,3027.3L559,3013.98Z" fill="#000" fill-rule="evenodd"/>
<path d="M597.47,3088.37L615.53,3113.63M615.53,3088.37L597.47,3113.63" stroke="#000" stroke-width="3.0" fill="none"/>
<path d="M606.5,3087L616,3108.7L597,3108.7Z M600.67,3106.3L612.33,3106.3L606.5,3092.98Z" fill="#000" fill-rule="evenodd"/>
<path d="M645.47,3158.37L663.53,3183.63M663.53,3158.37L645.47,3183.63" stroke="#000" stroke-width="3.0" fill="none"/>
<path d="M654.5,3157L664,3178.7L645,3178.7Z M648.67,3176.3L660.33,3176.3L654.5,3162.98Z" fill="#000" fill-rule="evenodd"/>
<path d="M694.17,3206.67L712.23,3231.93M712.23,3206.67L694.17,3231.93" stroke="#000" stroke-width="3.0" fill="none"/>
<path d="M703.2,3205.3L712.7,3227L693.7,3227Z M697.37,3224.6L709.03,3224.6L703.2,3211.28Z" fill="#000" fill-rule="evenodd"/>
<path d="M742.07,3237.27L760.13,3262.53M760.13,3237.27L742.07,3262.53" stroke="#000" stroke-width="3.0" fill="none"/>
<path d="M751.1,3235.9L760.6,3257.6L741.6,3257.6Z M745.27,3255.2L756.93,3255.2L751.1,3241.88Z" fill="#000" fill-rule="evenodd"/>
<path d="M789.97,3257.57L808.03,3282.83M808.03,3257.57L789.97,3282.83" stroke="#000" stroke-width="3.0" fill="none"/>
<path d="M799,3256.2L808.5,3277.9L789.5,3277.9Z M793.17,3275.5L804.83,3275.5L799,3262.18Z" fill="#000" fill-rule="evenodd"/>
<path d="M837.87,3272.87L855.93,3298.13M855.93,3272.87L837.87,3298.13" stroke="#000" stroke-width="3.0" fill="none"/>
<path d="M846.9,3271.5L856.4,3293.2L837.4,3293.2Z M841.07,3290.8L852.73,3290.8L846.9,3277.48Z" fill="#000" fill-rule="evenodd"/>
<path d="M886.07,3286.87L904.13,3312.13M904.13,3286.87L886.07,3312.13" stroke="#000" stroke-width="3.0" fill="none"/>
<path d="M895.1,3285.5L904.6,3307.2L885.6,3307.2Z M889.27,3304.8L900.93,3304.8L895.1,3291.48Z" fill="#000" fill-rule="evenodd"/>
<path d="M933.97,3296.77L952.03,3322.03M952.03,3296.77L933.97,3322.03" stroke="#000" stroke-width="3.0" fill="none"/>
<path d="M943,3295.4L952.5,3317.1L933.5,3317.1Z M937.17,3314.7L948.83,3314.7L943,3301.38Z" fill="#000" fill-rule="evenodd"/>
<rect x="693.6" y="2625.6" width="293.8" height="158.4" fill="none" stroke="#000" stroke-width="1.3"/>
<rect x="698" y="2651.8" width="72" height="4" fill="#000"/>
<rect x="726.6" y="2644.55" width="14.8" height="18.5"/>
<rect x="698" y="2702.7" width="72" height="4" fill="#000"/>
<ellipse cx="734" cy="2704.7" rx="7" ry="9" fill="#fff" stroke="#000" stroke-width="2.0"/>
<rect x="698" y="2754" width="72" height="4" fill="#000"/>
<path d="M724.97,2743.37L743.03,2768.63M743.03,2743.37L724.97,2768.63" stroke="#000" stroke-width="3.0" fill="none"/>
<path d="M734,2742L743.5,2763.7L724.5,2763.7Z M728.17,2761.3L739.83,2761.3L734,2747.98Z" fill="#000" fill-rule="evenodd"/>
<text font-family='"Liberation Sans", sans-serif' font-weight="normal" font-size="41.6" class="t" transform="translate(777.9 2669) scale(0.7720 1)">GNR N/A</text>
<text font-family='"Liberation Sans", sans-serif' font-weight="normal" font-size="41.6" class="t" transform="translate(777.9 2719.4) scale(0.7720 1)">GNR 20NO</text>
<text font-family='"Liberation Sans", sans-serif' font-weight="normal" font-size="41.6" class="t" transform="translate(777.9 2770.5) scale(0.7720 1)">GNR 20LGNR</text>
</svg></body></html>
